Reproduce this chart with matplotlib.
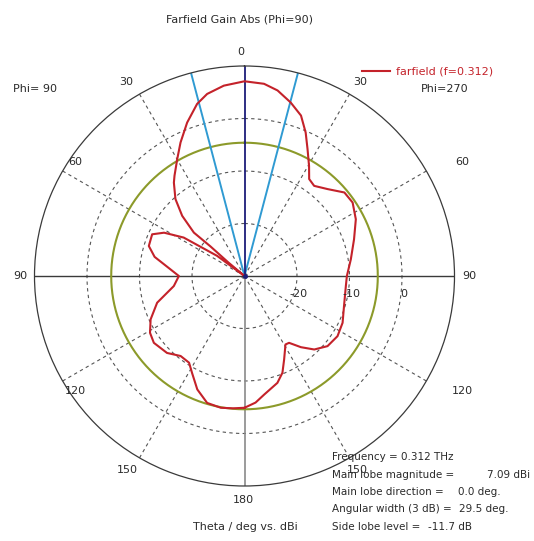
import numpy as np
import matplotlib
matplotlib.use("Agg")
import matplotlib.pyplot as plt

# ---------------- data ----------------
# signed theta (deg): negative = Phi=90 side (left), positive = Phi=270 side (right)
theta_left = [0, -6.2, -11.6, -15.4, -20.5, -25.6, -29.9, -34.9, -37.1, -41.9, -46, -49.4,
              -49.0, -50.0, -51.0, -53.7, -57.7, -61.7, -65.7, -72.6, -78, -84, -90,
              -98.1, -107, -114.8, -121, -126.4, -134.8, -141.4, -147.4, -151.6, -157.4,
              -163.6, -169.8, -175, -180]
gain_left = [7.09, 6.47, 5.4, 4.0, 1.2, -1.8, -4.3, -6.7, -7.7, -10.3, -13.5, -17.3,
             -21.4, -26.0, -30.0, -23.5, -16.3, -12.6, -10.7, -10.9, -12.5, -15.5, -17.5,
             -16.4, -12.6, -10.3, -9.0, -8.55, -9.2, -10.5, -10.4, -9.0, -6.6,
             -4.8, -4.5, -4.7, -4.9]
theta_right = [0, 5.8, 10.1, 14.9, 19.4, 23.1, 26.4, 30.4, 33.7, 37.7, 43.7, 50.1, 55.8,
               63, 71.5, 81.1, 90, 95.6, 106.8, 115.5, 122.9, 130.2, 136.5, 141.6, 146.3,
               149.1, 154.6, 158.6, 162.9, 170.6, 175, 180]
gain_right = [7.09, 6.8, 5.9, 4.2, 2.4, -0.3, -3.0, -5.7, -7.8, -8.3, -7.1, -5.2, -5.1,
              -6.2, -8.0, -9.5, -10.5, -10.6, -10.2, -9.3, -8.9, -9.3, -10.7, -12.7, -14.7,
              -14.8, -12.4, -10.2, -8.7, -7.1, -5.8, -4.9]

main_lobe_dir = 0.0
angular_width = 29.5
side_lobe_level_abs = 7.09 - 11.7   # dBi
r_min, r_max = -30, 10
ring_levels = [-20, -10, 0]
ring_labels = ["-20", "-10", "0"]
spoke_angles = [30, 60, 120, 150, -30, -60, -120, -150]

# ---------------- figure ----------------
W, H = 534, 541
fig = plt.figure(figsize=(W / 100, H / 100), dpi=100)
plt.rcParams['font.family'] = ['DejaVu Sans']

cx, cy, R = 244.5, 276.0, 210.0
ax = fig.add_axes([(cx - R) / W, (H - cy - R) / H, 2 * R / W, 2 * R / H], projection='polar')
ax.set_theta_zero_location('N')
ax.set_theta_direction(-1)
ax.set_rlim(r_min, r_max)
ax.grid(False)
ax.set_xticks([])
ax.set_yticks([])
ax.spines['polar'].set_color('#3a3a3a')
ax.spines['polar'].set_linewidth(0.9)
ax.patch.set_alpha(0)

full = np.linspace(0, 2 * np.pi, 721)
for lv in ring_levels:
    ax.plot(full, np.full_like(full, lv), color='#555555', lw=0.8, ls=(0, (3, 3)))
for a in spoke_angles:
    ax.plot([np.radians(a)] * 2, [r_min, r_max], color='#555555', lw=0.8, ls=(0, (3, 3)))

# axes lines
ax.plot([np.pi / 2] * 2, [r_min, r_max], color='#3a3a3a', lw=1.0)
ax.plot([-np.pi / 2] * 2, [r_min, r_max], color='#3a3a3a', lw=1.0)
ax.plot([np.pi] * 2, [r_min, r_max], color='#8a8a8a', lw=1.2)

# side lobe level circle
ax.plot(full, np.full_like(full, side_lobe_level_abs), color='#8c9a2a', lw=1.5)

# beam width lines
for s in (-1, 1):
    a = np.radians(main_lobe_dir + s * angular_width / 2)
    ax.plot([a, a], [r_min, r_max], color='#2f9ad2', lw=1.4)
ax.plot([np.radians(main_lobe_dir)] * 2, [r_min, r_max], color='#1c1c7a', lw=1.3)

# farfield curve
th = np.concatenate([np.array(theta_left)[::-1], np.array(theta_right)[1:]])
g = np.concatenate([np.array(gain_left)[::-1], np.array(gain_right)[1:]])
ax.plot(np.radians(th), np.clip(g, r_min, None), color='#c4222a', lw=1.5)
ax.plot([0], [r_min], marker='o', ms=2.5, color='#1c1c7a')

# ---------------- text ----------------
def px(x, y, s, **kw):
    fig.text(x / W, 1 - y / H, s, **kw)

tc = '#2a2a2a'
fs = 8
px(239, 20, "Farfield Gain Abs (Phi=90)", ha='center', va='center', fontsize=fs, color=tc)
px(241, 52, "0", ha='center', va='center', fontsize=fs, color=tc)
px(126, 82, "30", ha='center', va='center', fontsize=fs, color=tc)
px(360, 82, "30", ha='center', va='center', fontsize=fs, color=tc)
px(13, 89, "Phi= 90", ha='left', va='center', fontsize=fs, color=tc)
px(468, 89, "Phi=270", ha='right', va='center', fontsize=fs, color=tc)
px(75, 162, "60", ha='center', va='center', fontsize=fs, color=tc)
px(462, 162, "60", ha='center', va='center', fontsize=fs, color=tc)
px(20, 276, "90", ha='center', va='center', fontsize=fs, color=tc)
px(469, 276, "90", ha='center', va='center', fontsize=fs, color=tc)
px(75, 391, "120", ha='center', va='center', fontsize=fs, color=tc)
px(462, 391, "120", ha='center', va='center', fontsize=fs, color=tc)
px(127, 470, "150", ha='center', va='center', fontsize=fs, color=tc)
px(357, 470, "150", ha='center', va='center', fontsize=fs, color=tc)
px(243, 500, "180", ha='center', va='center', fontsize=fs, color=tc)
px(245, 527, "Theta / deg vs. dBi", ha='center', va='center', fontsize=fs, color=tc)

for lv, lab in zip(ring_levels, ring_labels):
    ax.annotate(lab, xy=(np.pi / 2, lv), xytext=(2, -18), textcoords='offset pixels',
                ha='center', va='center', fontsize=fs, color=tc)

# legend
fig.add_artist(plt.Line2D([362 / W, 390 / W], [1 - 71 / H] * 2, color='#c4222a', lw=1.5))
px(396, 71, "farfield (f=0.312)", ha='left', va='center', fontsize=fs, color='#c4222a')

# info block
ifs = 7.5
info_y = [457, 475, 492, 509, 527]
info_lab = ["Frequency = 0.312 THz", "Main lobe magnitude =", "Main lobe direction =",
            "Angular width (3 dB) =", "Side lobe level ="]
info_val = ["", "7.09 dBi", "0.0 deg.", "29.5 deg.", "-11.7 dB"]
info_vx = [0, 487, 458, 459, 428]
for y, l, v, vx in zip(info_y, info_lab, info_val, info_vx):
    px(332, y, l, ha='left', va='center', fontsize=ifs, color=tc)
    if v:
        px(vx, y, v, ha='left', va='center', fontsize=ifs, color=tc)

fig.savefig("out.png", dpi=100)
